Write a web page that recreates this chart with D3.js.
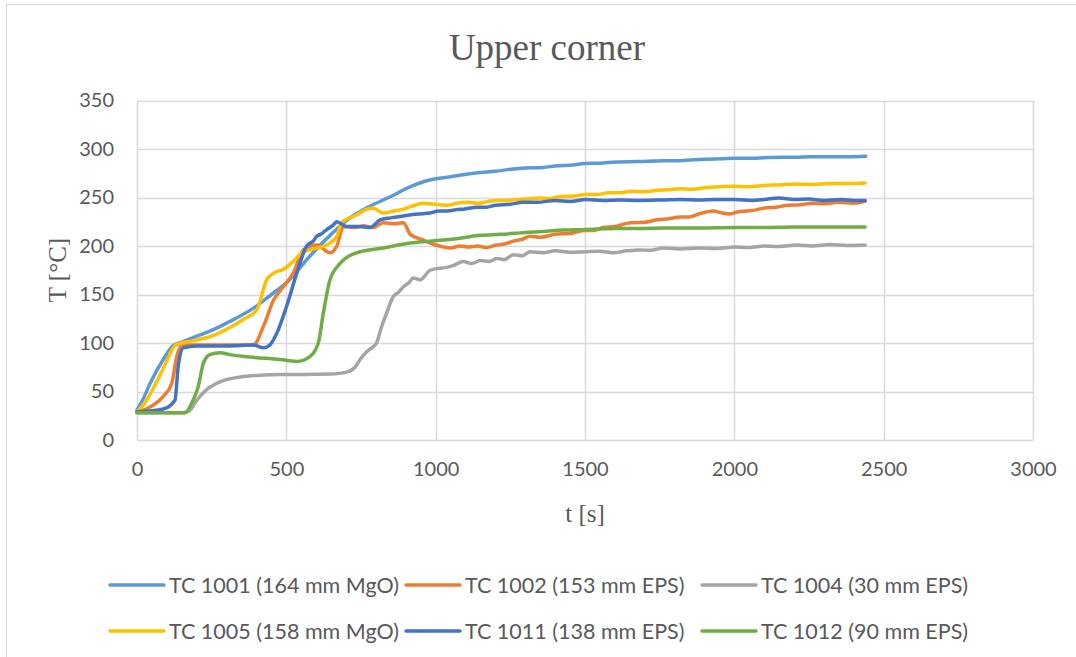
<!DOCTYPE html>
<html>
<head>
<meta charset="utf-8">
<script src="https://cdn.jsdelivr.net/npm/d3@7"></script>
<style>
  html, body { margin: 0; padding: 0; background: #fff; }
  svg { display: block; }
</style>
</head>
<body>
<svg id="chart" width="1076" height="657"></svg>
<script>
// Thermocouple readings, [time s, temperature °C]
const tc1001 = [[0,31],[20,42],[45,59],[90,84],[120,97],[150,101],[200,107],[250,113],[310,122],[400,138],[450,150],[500,162],[580,190],[650,212],[700,226],[780,241],[850,251],[900,259],[980,268],[1040,271],[1080,273],[1140,275.5],[1200,277],[1260,279.5],[1300,280.5],[1360,281],[1400,282.5],[1460,283.5],[1500,285],[1560,285.5],[1600,286.5],[1680,287],[1760,288],[1820,288],[1900,289.5],[1960,290],[2000,290.5],[2060,290.5],[2100,291],[2160,291.5],[2200,291.5],[2260,292],[2300,292],[2380,292],[2440,292.5]];
const tc1002 = [[0,29],[44,34],[88,45],[116,58],[133,86],[150,98],[200,98],[300,98],[390,98],[423,117],[457,144],[490,158],[523,172],[557,196],[602,201],[646,193],[669,200],[691,220],[730,219],[758,221],[790,219],[825,224],[860,223],[892,224],[915,212],[959,206],[1000,201],[1026,199],[1050,198],[1081,200],[1110,199],[1140,200],[1170,198.5],[1204,201],[1230,202],[1260,205],[1290,207],[1316,210],[1350,209],[1400,212],[1450,213],[1502,216],[1530,216],[1560,219],[1600,220],[1651,224],[1700,224.5],[1740,227],[1780,228],[1818,230],[1850,230],[1880,233],[1930,236],[1960,234],[1985,233],[2010,235],[2040,236],[2070,237],[2097,239],[2140,240],[2180,242],[2220,242.5],[2264,244],[2300,243.5],[2350,245],[2400,244],[2438,246]];
const tc1004 = [[0,28],[150,28],[175,30],[200,41],[233,52],[278,60],[345,65],[423,67],[479,67.5],[560,67.5],[646,68],[702,70],[730,75],[747,83],[769,91],[790,96],[802,100],[819,117],[836,131],[858,148],[875,152],[892,158],[910,162],[925,167],[948,165],[981,175],[1010,177],[1037,178],[1060,180],[1093,184],[1120,182],[1150,185],[1180,184],[1204,187],[1230,186],[1260,191],[1290,190],[1316,194],[1360,193],[1400,195],[1450,193.5],[1502,194],[1550,194.5],[1595,193],[1640,195],[1680,196],[1720,195.5],[1762,198],[1820,197],[1880,198],[1940,197.5],[2001,199],[2050,198.5],[2100,200],[2150,199.5],[2209,201],[2260,200],[2320,201.5],[2380,200.5],[2438,201]];
const tc1005 = [[0,29],[30,40],[66,60],[90,75],[130,98],[200,103],[250,107],[311,116],[360,125],[401,134],[434,165],[457,172],[490,176],[523,184],[557,194],[579,196],[646,203],[669,210],[685,224],[735,232],[770,238],[791,239],[825,234],[860,236],[892,238],[930,242],[959,244],[1000,243],[1040,242],[1070,244],[1110,245],[1140,244],[1170,245.5],[1204,247],[1240,247],[1270,248],[1310,248.5],[1349,249.5],[1380,249],[1420,251],[1460,251.5],[1502,253],[1540,253],[1580,255],[1620,255],[1651,256.5],[1700,256],[1740,257.5],[1780,258],[1818,259],[1860,258.5],[1900,260],[1950,261],[2001,261.5],[2050,261],[2100,262.5],[2150,263],[2209,264],[2260,263.5],[2320,264.5],[2380,264.5],[2438,265]];
const tc1011 = [[0,29],[88,32],[127,41],[138,76],[155,95],[200,97],[300,97],[390,98],[423,95],[445,98],[468,110],[501,138],[535,172],[568,200],[590,205],[602,210],[620,213],[635,217],[655,221],[669,225],[702,220],[740,220],[780,219],[814,227],[850,229],[892,231],[940,233],[981,234],[1010,236],[1040,236],[1070,237.5],[1093,238],[1140,240],[1170,240],[1200,242],[1250,243],[1293,245],[1340,245],[1400,247],[1450,246],[1502,248],[1560,247],[1620,247.5],[1680,247],[1762,247.5],[1820,248],[1880,247.5],[1940,248],[2001,248],[2060,247],[2100,248],[2150,249.5],[2200,248],[2250,248.5],[2300,247],[2360,248],[2400,247],[2438,247]];
const tc1012 = [[0,28],[100,28],[161,28],[183,38],[205,55],[222,79],[244,88],[278,90],[311,88],[378,85.5],[479,83],[535,81],[579,86],[607,100],[624,131],[646,165],[680,182],[735,193],[825,198],[915,203],[981,205],[1081,208],[1148,211],[1220,212],[1300,214],[1360,215],[1427,216.5],[1500,217],[1600,218],[1680,218],[1762,218.5],[1880,218.5],[2001,219],[2100,219],[2200,219.5],[2320,219.5],[2438,219.5]];

const seriesNames = ["TC 1001 (164 mm MgO)", "TC 1002 (153 mm EPS)", "TC 1004 (30 mm EPS)",
                     "TC 1005 (158 mm MgO)", "TC 1011 (138 mm EPS)", "TC 1012 (90 mm EPS)"];
const seriesData = [tc1001, tc1002, tc1004, tc1005, tc1011, tc1012];
const seriesColors = ["#5B9BD5", "#ED7D31", "#A5A5A5", "#FFC000", "#4472C4", "#70AD47"];

const xTicks = [0, 500, 1000, 1500, 2000, 2500, 3000];
const yTicks = [0, 50, 100, 150, 200, 250, 300, 350];

const svg = d3.select("#chart");

// chart frame
svg.append("rect")
  .attr("x", 6.5).attr("y", 4.5)
  .attr("width", 1100).attr("height", 700)
  .attr("fill", "#fff").attr("stroke", "#d9d9d9").attr("stroke-width", 1);

const x = d3.scaleLinear().domain([0, 3000]).range([137, 1033]);
const y = d3.scaleLinear().domain([0, 350]).range([440, 100.5]);

const grid = svg.append("g");
grid.selectAll("line.h").data(yTicks).join("line")
  .attr("x1", x(0)).attr("x2", x(3000))
  .attr("y1", d => Math.round(y(d)) + 0.5).attr("y2", d => Math.round(y(d)) + 0.5)
  .attr("stroke", "#d9d9d9").attr("stroke-width", 1.5);
grid.selectAll("line.v").data(xTicks).join("line")
  .attr("y1", y(0)).attr("y2", y(350))
  .attr("x1", d => Math.round(x(d)) + 0.5).attr("x2", d => Math.round(x(d)) + 0.5)
  .attr("stroke", "#d9d9d9").attr("stroke-width", 1.5);

// axes with tick labels only
const tickFont = "Lato, 'Open Sans', sans-serif";
const xAxis = svg.append("g").attr("transform", `translate(0,${y(0)})`)
  .call(d3.axisBottom(x).tickValues(xTicks).tickSize(0).tickPadding(22).tickFormat(d3.format("d")));
const yAxis = svg.append("g").attr("transform", `translate(${x(0)},0)`)
  .call(d3.axisLeft(y).tickValues(yTicks).tickSize(0).tickPadding(23).tickFormat(d3.format("d")));
[xAxis, yAxis].forEach(a => {
  a.select(".domain").remove();
  a.selectAll("text").attr("fill", "#595959").style("font-family", tickFont).style("font-size", "20px");
});

// temperature curves
const line = d3.line().x(d => x(d[0])).y(d => y(d[1])).curve(d3.curveMonotoneX);
svg.append("g").selectAll("path").data(seriesData).join("path")
  .attr("d", line)
  .attr("fill", "none")
  .attr("stroke", (d, i) => seriesColors[i])
  .attr("stroke-width", 3.5)
  .attr("stroke-linejoin", "round")
  .attr("stroke-linecap", "round");

// titles
const serif = "'Liberation Serif', 'Times New Roman', serif";
svg.append("text").attr("x", 547).attr("y", 60).attr("text-anchor", "middle")
  .attr("fill", "#595959").style("font-family", serif).style("font-size", "37px")
  .text("Upper corner");
svg.append("text").attr("x", 585).attr("y", 522).attr("text-anchor", "middle")
  .attr("fill", "#595959").style("font-family", serif).style("font-size", "25px")
  .text("t [s]");
svg.append("text").attr("transform", "translate(66,270) rotate(-90)").attr("text-anchor", "middle")
  .attr("fill", "#595959").style("font-family", serif).style("font-size", "25px")
  .text("T [°C]");

// legend, three columns by two rows
const legend = svg.append("g");
const items = legend.selectAll("g").data(seriesNames).join("g")
  .attr("transform", (d, i) => `translate(${110 + (i % 3) * 296},${i < 3 ? 585 : 631})`);
items.append("line")
  .attr("x1", 0).attr("x2", 54).attr("y1", 0).attr("y2", 0)
  .attr("stroke", (d, i) => seriesColors[i]).attr("stroke-width", 3.5).attr("stroke-linecap", "round");
items.append("text")
  .attr("x", 59).attr("y", 0).attr("dy", "0.35em")
  .attr("fill", "#595959").style("font-family", tickFont).style("font-size", "21.5px")
  .text(d => d);
</script>
</body>
</html>
